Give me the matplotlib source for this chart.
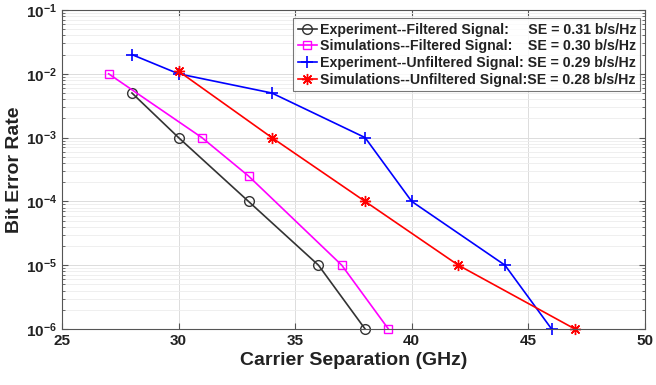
import matplotlib
matplotlib.use('Agg')
import matplotlib.pyplot as plt
from matplotlib.ticker import LogLocator, NullFormatter, MultipleLocator

plt.rcParams['font.family'] = ['Liberation Sans', 'DejaVu Sans']
plt.rcParams['font.weight'] = 'bold'
plt.rcParams['mathtext.fontset'] = 'custom'
plt.rcParams['mathtext.rm'] = 'Liberation Sans:bold'
plt.rcParams['mathtext.it'] = 'Liberation Sans:bold'
plt.rcParams['mathtext.bf'] = 'Liberation Sans:bold'

# 数据
exp_filt_x = [28, 30, 33, 36, 38]
exp_filt_y = [5e-3, 1e-3, 1e-4, 1e-5, 1e-6]

sim_filt_x = [27, 31, 33, 37, 39]
sim_filt_y = [1e-2, 1e-3, 2.5e-4, 1e-5, 1e-6]

exp_unf_x = [28, 30, 34, 38, 40, 44, 46]
exp_unf_y = [2e-2, 1e-2, 5e-3, 1e-3, 1e-4, 1e-5, 1e-6]

sim_unf_x = [30, 34, 38, 42, 47]
sim_unf_y = [1.1e-2, 1e-3, 1e-4, 1e-5, 1e-6]

labels = [
    'Experiment--Filtered Signal:     SE = 0.31 b/s/Hz',
    'Simulations--Filtered Signal:    SE = 0.30 b/s/Hz',
    'Experiment--Unfiltered Signal: SE = 0.29 b/s/Hz',
    'Simulations--Unfiltered Signal:SE = 0.28 b/s/Hz',
]

fig = plt.figure(figsize=(6.56, 3.85), dpi=100)
ax = fig.add_axes([0.0945, 0.1455, 0.8885, 0.8285])

ax.plot(exp_filt_x, exp_filt_y, color='#333333', lw=1.2, marker='o', ms=7,
        mfc='none', mec='#333333', mew=1.0, label=labels[0], clip_on=False)
ax.plot(sim_filt_x, sim_filt_y, color='#ff00ff', lw=1.2, marker='s', ms=6,
        mfc='none', mec='#ff00ff', mew=1.0, label=labels[1], clip_on=False)
ax.plot(exp_unf_x, exp_unf_y, color='#0000ff', lw=1.2, marker='+', ms=9,
        mew=1.2, label=labels[2], clip_on=False)
ax.plot(sim_unf_x, sim_unf_y, color='#ff0000', lw=1.2, marker=(8, 2, 0), ms=8,
        mew=1.0, label=labels[3], clip_on=False)

ax.set_yscale('log')
ax.set_xlim(25, 50)
ax.set_ylim(1e-6, 1e-1)
ax.xaxis.set_major_locator(MultipleLocator(5))
ax.yaxis.set_major_locator(LogLocator(base=10, numticks=10))
ax.yaxis.set_minor_locator(LogLocator(base=10, subs=range(2, 10), numticks=20))
ax.yaxis.set_minor_formatter(NullFormatter())

ax.grid(True, which='major', color='#dcdcdc', lw=0.7)
ax.grid(True, which='minor', axis='y', color='#ececec', lw=0.6)
ax.set_axisbelow(True)

for s in ax.spines.values():
    s.set_color('#555555')
    s.set_linewidth(0.8)
ax.tick_params(which='both', direction='in', top=True, right=True,
               colors='#555555', labelcolor='#222222', labelsize=11)
ax.tick_params(which='major', length=4)
ax.tick_params(which='minor', length=2)

ax.set_xlabel('Carrier Separation (GHz)', fontsize=14, fontweight='bold',
              color='#222222', labelpad=3)
ax.set_ylabel('Bit Error Rate', fontsize=14, fontweight='bold',
              color='#222222', labelpad=2)

leg = ax.legend(loc='upper right', bbox_to_anchor=(0.997, 0.983), fontsize=10.2,
                frameon=True, fancybox=False, edgecolor='#555555',
                handlelength=1.4, handletextpad=0.15, borderpad=0.3,
                labelspacing=0.2, borderaxespad=0.2)
leg.get_frame().set_linewidth(0.8)
for t in leg.get_texts():
    t.set_fontweight('bold')
    t.set_color('#222222')

fig.savefig('out.png', dpi=100)
